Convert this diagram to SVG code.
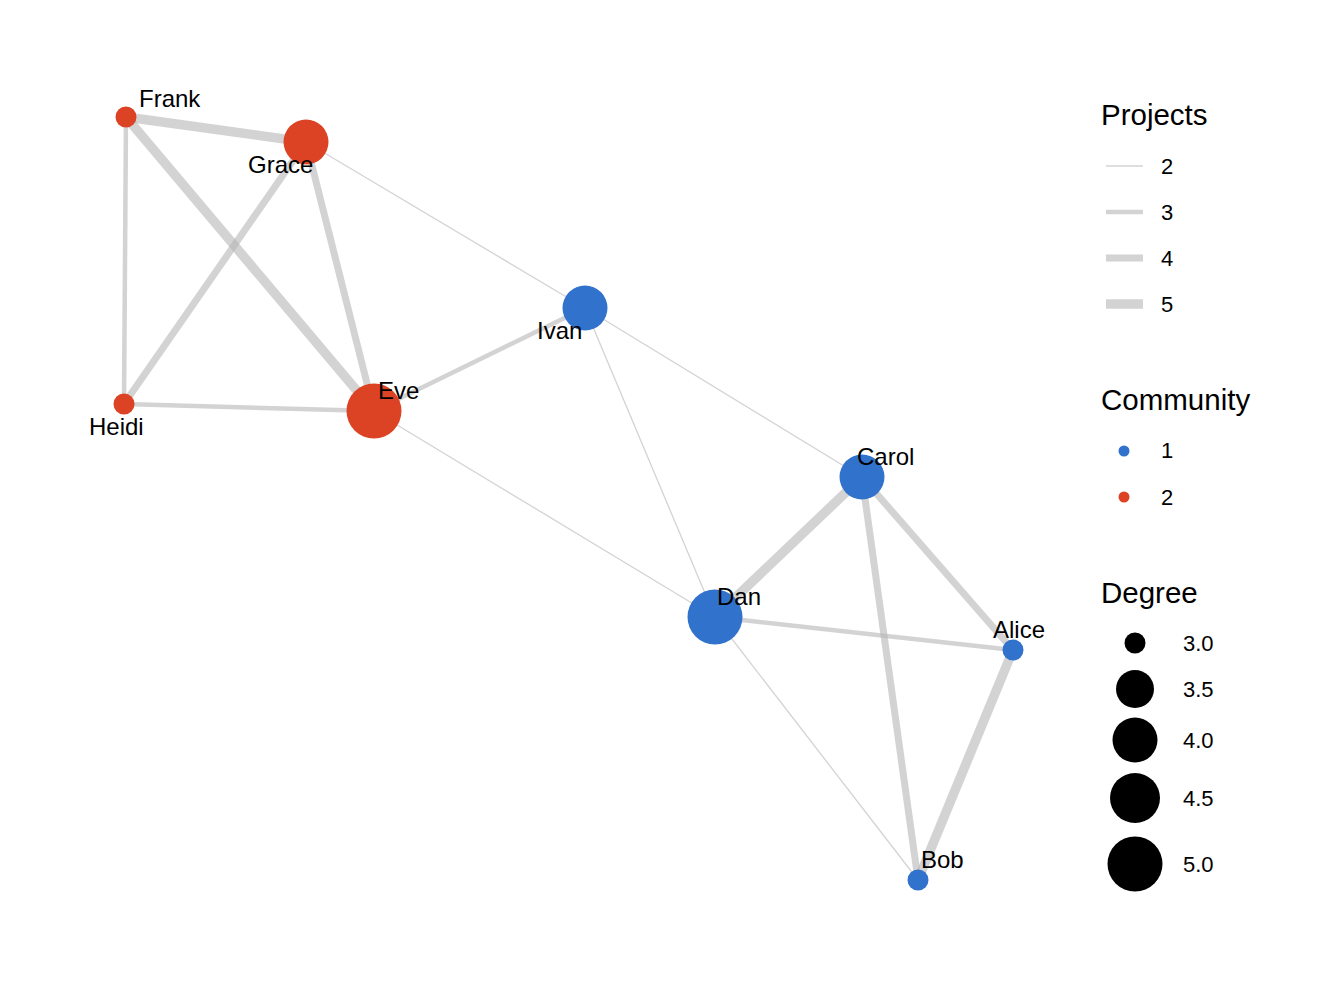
<svg xmlns="http://www.w3.org/2000/svg" width="1344" height="998" viewBox="0 0 1344 998">
<style>
.e{stroke:#b5b5b5;stroke-opacity:0.6;fill:none}
.w2{stroke-width:1.3}
.w3{stroke-width:4.5}
.w4{stroke-width:7}
.w5{stroke-width:9.5}
.c1{fill:#3172CC}
.c2{fill:#DC4325}
.lbl{font-family:"Liberation Sans",Arial,sans-serif;font-size:24px;fill:#000}
.lt{font-family:"Liberation Sans",Arial,sans-serif;font-size:29.5px;fill:#000}
.ll{font-family:"Liberation Sans",Arial,sans-serif;font-size:22px;fill:#000}
</style>
<rect width="1344" height="998" fill="#fff"/>
<g id="edges">
<line class="e w5" x1="126" y1="117" x2="306" y2="142"/>
<line class="e w5" x1="126" y1="117" x2="374" y2="411"/>
<line class="e w3" x1="126" y1="117" x2="124" y2="404"/>
<line class="e w4" x1="306" y1="142" x2="124" y2="404"/>
<line class="e w4" x1="306" y1="142" x2="374" y2="411"/>
<line class="e w2" x1="306" y1="142" x2="585" y2="308"/>
<line class="e w3" x1="124" y1="404" x2="374" y2="411"/>
<line class="e w3" x1="374" y1="411" x2="585" y2="308"/>
<line class="e w2" x1="374" y1="411" x2="715" y2="617"/>
<line class="e w2" x1="585" y1="308" x2="862" y2="477"/>
<line class="e w2" x1="585" y1="308" x2="715" y2="617"/>
<line class="e w5" x1="862" y1="477" x2="715" y2="617"/>
<line class="e w4" x1="862" y1="477" x2="1013" y2="650"/>
<line class="e w4" x1="862" y1="477" x2="918" y2="880"/>
<line class="e w3" x1="715" y1="617" x2="1013" y2="650"/>
<line class="e w2" x1="715" y1="617" x2="918" y2="880"/>
<line class="e w5" x1="1013" y1="650" x2="918" y2="880"/>
</g>
<g id="node-frank"><circle class="c2" cx="126" cy="117" r="10.5"/><text class="lbl" x="139" y="107">Frank</text></g>
<g id="node-grace"><circle class="c2" cx="306" cy="142" r="22.5"/><text class="lbl" x="248" y="173">Grace</text></g>
<g id="node-heidi"><circle class="c2" cx="124" cy="404" r="10.5"/><text class="lbl" x="89" y="435">Heidi</text></g>
<g id="node-eve"><circle class="c2" cx="374" cy="411" r="27.5"/><text class="lbl" x="378" y="399">Eve</text></g>
<g id="node-ivan"><circle class="c1" cx="585" cy="308" r="22.5"/><text class="lbl" x="537" y="339">Ivan</text></g>
<g id="node-carol"><circle class="c1" cx="862" cy="477" r="22.5"/><text class="lbl" x="857" y="465">Carol</text></g>
<g id="node-dan"><circle class="c1" cx="715" cy="617" r="27.5"/><text class="lbl" x="717" y="605">Dan</text></g>
<g id="node-alice"><circle class="c1" cx="1013" cy="650" r="10.5"/><text class="lbl" x="993" y="638">Alice</text></g>
<g id="node-bob"><circle class="c1" cx="918" cy="880" r="10.5"/><text class="lbl" x="921" y="868">Bob</text></g>
<g id="legend-projects">
<text class="lt" x="1101" y="125">Projects</text>
<line class="e w2" x1="1106" y1="166" x2="1143" y2="166"/>
<line class="e w3" x1="1106" y1="212" x2="1143" y2="212"/>
<line class="e w4" x1="1106" y1="258" x2="1143" y2="258"/>
<line class="e w5" x1="1106" y1="304" x2="1143" y2="304"/>
<text class="ll" x="1161" y="174">2</text>
<text class="ll" x="1161" y="220">3</text>
<text class="ll" x="1161" y="266">4</text>
<text class="ll" x="1161" y="312">5</text>
</g>
<g id="legend-community">
<text class="lt" x="1101" y="410">Community</text>
<circle class="c1" cx="1124" cy="451" r="5.5"/>
<circle class="c2" cx="1124" cy="497" r="5.5"/>
<text class="ll" x="1161" y="458">1</text>
<text class="ll" x="1161" y="505">2</text>
</g>
<g id="legend-degree">
<text class="lt" x="1101" y="603">Degree</text>
<circle cx="1135" cy="643" r="10.5" fill="#000"/>
<circle cx="1135" cy="689" r="19" fill="#000"/>
<circle cx="1135" cy="740" r="22.5" fill="#000"/>
<circle cx="1135" cy="798" r="25" fill="#000"/>
<circle cx="1135" cy="864" r="27.5" fill="#000"/>
<text class="ll" x="1183" y="651">3.0</text>
<text class="ll" x="1183" y="697">3.5</text>
<text class="ll" x="1183" y="748">4.0</text>
<text class="ll" x="1183" y="806">4.5</text>
<text class="ll" x="1183" y="872">5.0</text>
</g>
</svg>
